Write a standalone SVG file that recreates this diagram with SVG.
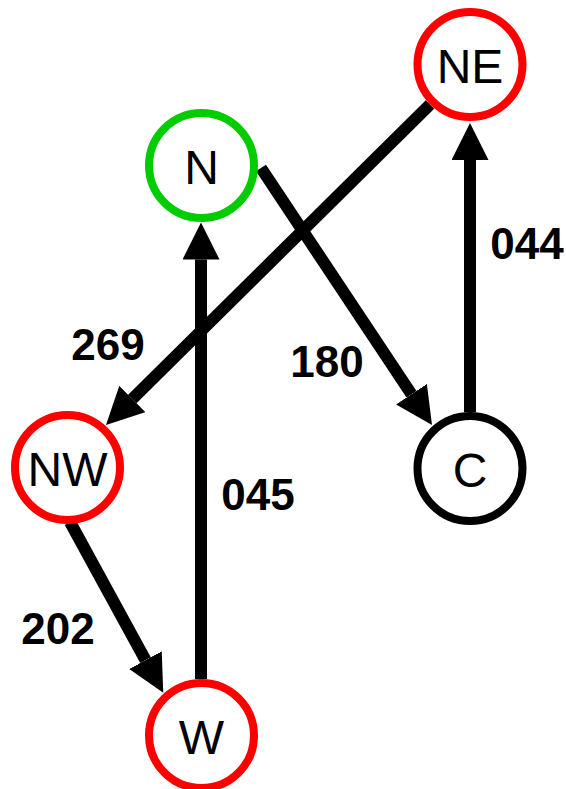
<svg xmlns="http://www.w3.org/2000/svg" width="566" height="789" viewBox="0 0 566 789">
<style>
.node{fill:#ffffff;stroke-width:8}
.red{stroke:#ff0000}
.green{stroke:#00cc00}
.black{stroke:#000000}
.nlabel{font-family:"Liberation Sans",Arial,sans-serif;font-size:48px;fill:#000000;text-anchor:middle}
.edge{stroke:#000000;stroke-width:12;fill:none;marker-end:url(#arrow)}
.elabel{font-family:"Liberation Sans",Arial,sans-serif;font-size:44px;font-weight:bold;fill:#000000;text-anchor:middle}
</style>
<defs>
<marker id="arrow" viewBox="0 0 37 37" refX="0" refY="18.5" markerWidth="37" markerHeight="37" markerUnits="userSpaceOnUse" orient="auto">
<path d="M0,0 L37,18.5 L0,37 z" fill="#000000"/>
</marker>
</defs>
<rect width="566" height="789" fill="#ffffff"/>
<g id="connectors">
<line class="edge" x1="430" y1="104.5" x2="132.3" y2="399"/>
<line class="edge" x1="261" y1="168" x2="411.5" y2="394.2"/>
<line class="edge" x1="470" y1="412" x2="470" y2="160"/>
<line class="edge" x1="70" y1="522" x2="145.5" y2="660.2"/>
<line class="edge" x1="201" y1="679" x2="201" y2="259.5"/>
<text class="elabel" x="108" y="360">269</text>
<text class="elabel" x="327" y="377">180</text>
<text class="elabel" x="527" y="259">044</text>
<text class="elabel" x="258" y="510">045</text>
<text class="elabel" x="58" y="644">202</text>
</g>
<g id="node-NE">
<circle class="node red" cx="470" cy="64.5" r="52.5"/>
<text class="nlabel" x="470" y="82.5">NE</text>
</g>
<g id="node-N">
<circle class="node green" cx="201.5" cy="165.5" r="52.5"/>
<text class="nlabel" x="201.5" y="183.5">N</text>
</g>
<g id="node-NW">
<circle class="node red" cx="67.5" cy="467.5" r="52.5"/>
<text class="nlabel" x="67.5" y="485.5">NW</text>
</g>
<g id="node-C">
<circle class="node black" cx="470" cy="468.5" r="52.5"/>
<text class="nlabel" x="470" y="486.5">C</text>
</g>
<g id="node-W">
<circle class="node red" cx="201.5" cy="735.5" r="52.5"/>
<text class="nlabel" x="201.5" y="753.5">W</text>
</g>
</svg>
